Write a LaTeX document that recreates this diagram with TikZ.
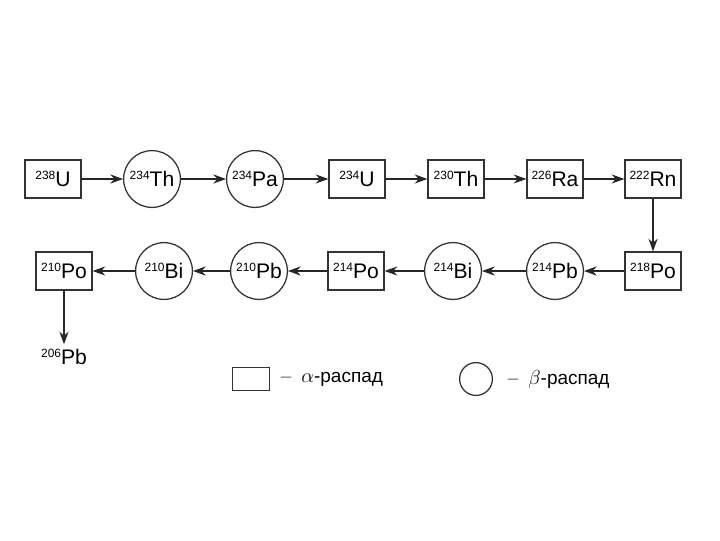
\documentclass[tikz,border=0pt]{standalone}
\usepackage{fontspec}
\setmainfont{Liberation Sans}
\usepackage{tikz}
\usetikzlibrary{arrows.meta}
\newcommand{\nuc}[2]{\raisebox{4.8pt}{\fontsize{8.5}{10}\selectfont #1}#2}

\begin{document}
\begin{tikzpicture}[
    x=0.025cm, y=-0.025cm,
    alphabox/.style={draw=black!80, line width=0.9pt, minimum width=1.4cm, minimum height=0.95cm, inner sep=1pt, font=\fontsize{15}{18}\selectfont},
    betacircle/.style={circle, draw=black!80, line width=0.9pt, minimum size=1.42cm, inner sep=0pt, font=\fontsize{15}{18}\selectfont},
    decay/.style={draw=black!85, line width=0.8pt, -{Stealth[length=9pt, width=6.5pt]}},
    legend/.style={anchor=west, font=\fontsize{13.5}{16}\selectfont}
]
    \useasboundingbox (0,0) rectangle (720,540);
    % upper row
    \node[alphabox] (u238) at (53,179) {\nuc{238}{U}};
    \node[betacircle] (th234) at (152,179) {\nuc{234}{Th}};
    \node[betacircle] (pa234) at (255,179) {\nuc{234}{Pa}};
    \node[alphabox] (u234) at (357,179) {\nuc{234}{U}};
    \node[alphabox] (th230) at (456,179) {\nuc{230}{Th}};
    \node[alphabox] (ra226) at (555,179) {\nuc{226}{Ra}};
    \node[alphabox] (rn222) at (653,179) {\nuc{222}{Rn}};
    % lower row
    \node[alphabox] (po218) at (653,271) {\nuc{218}{Po}};
    \node[betacircle] (pb214) at (555,271) {\nuc{214}{Pb}};
    \node[betacircle] (bi214) at (453,271) {\nuc{214}{Bi}};
    \node[alphabox] (po214) at (356,271) {\nuc{214}{Po}};
    \node[betacircle] (pb210) at (259,271) {\nuc{210}{Pb}};
    \node[betacircle] (bi210) at (164,271) {\nuc{210}{Bi}};
    \node[alphabox] (po210) at (64,271) {\nuc{210}{Po}};
    \node[font=\fontsize{15}{18}\selectfont] (pb206) at (64,357) {\nuc{206}{Pb}};
    \foreach \a/\b in {u238/th234, th234/pa234, pa234/u234, u234/th230, th230/ra226, ra226/rn222,
        rn222/po218, po218/pb214, pb214/bi214, bi214/po214, po214/pb210, pb210/bi210, bi210/po210, po210/pb206}
        \draw[decay] (\a) -- (\b);
    % legend
    \node[draw=black!80, line width=0.9pt, minimum width=0.92cm, minimum height=0.58cm] (lgalpha) at (251,379) {};
    \node[legend] (txalpha) at (276,379) {{\color{black!50}–}\hspace{7pt}$\alpha$-распад};
    \node[circle, draw=black!80, line width=0.9pt, minimum size=0.82cm] (lgbeta) at (476,379) {};
    \node[legend] (txbeta) at (503,379) {{\color{black!50}–}\hspace{7pt}$\beta$-распад};
\end{tikzpicture}
\end{document}
